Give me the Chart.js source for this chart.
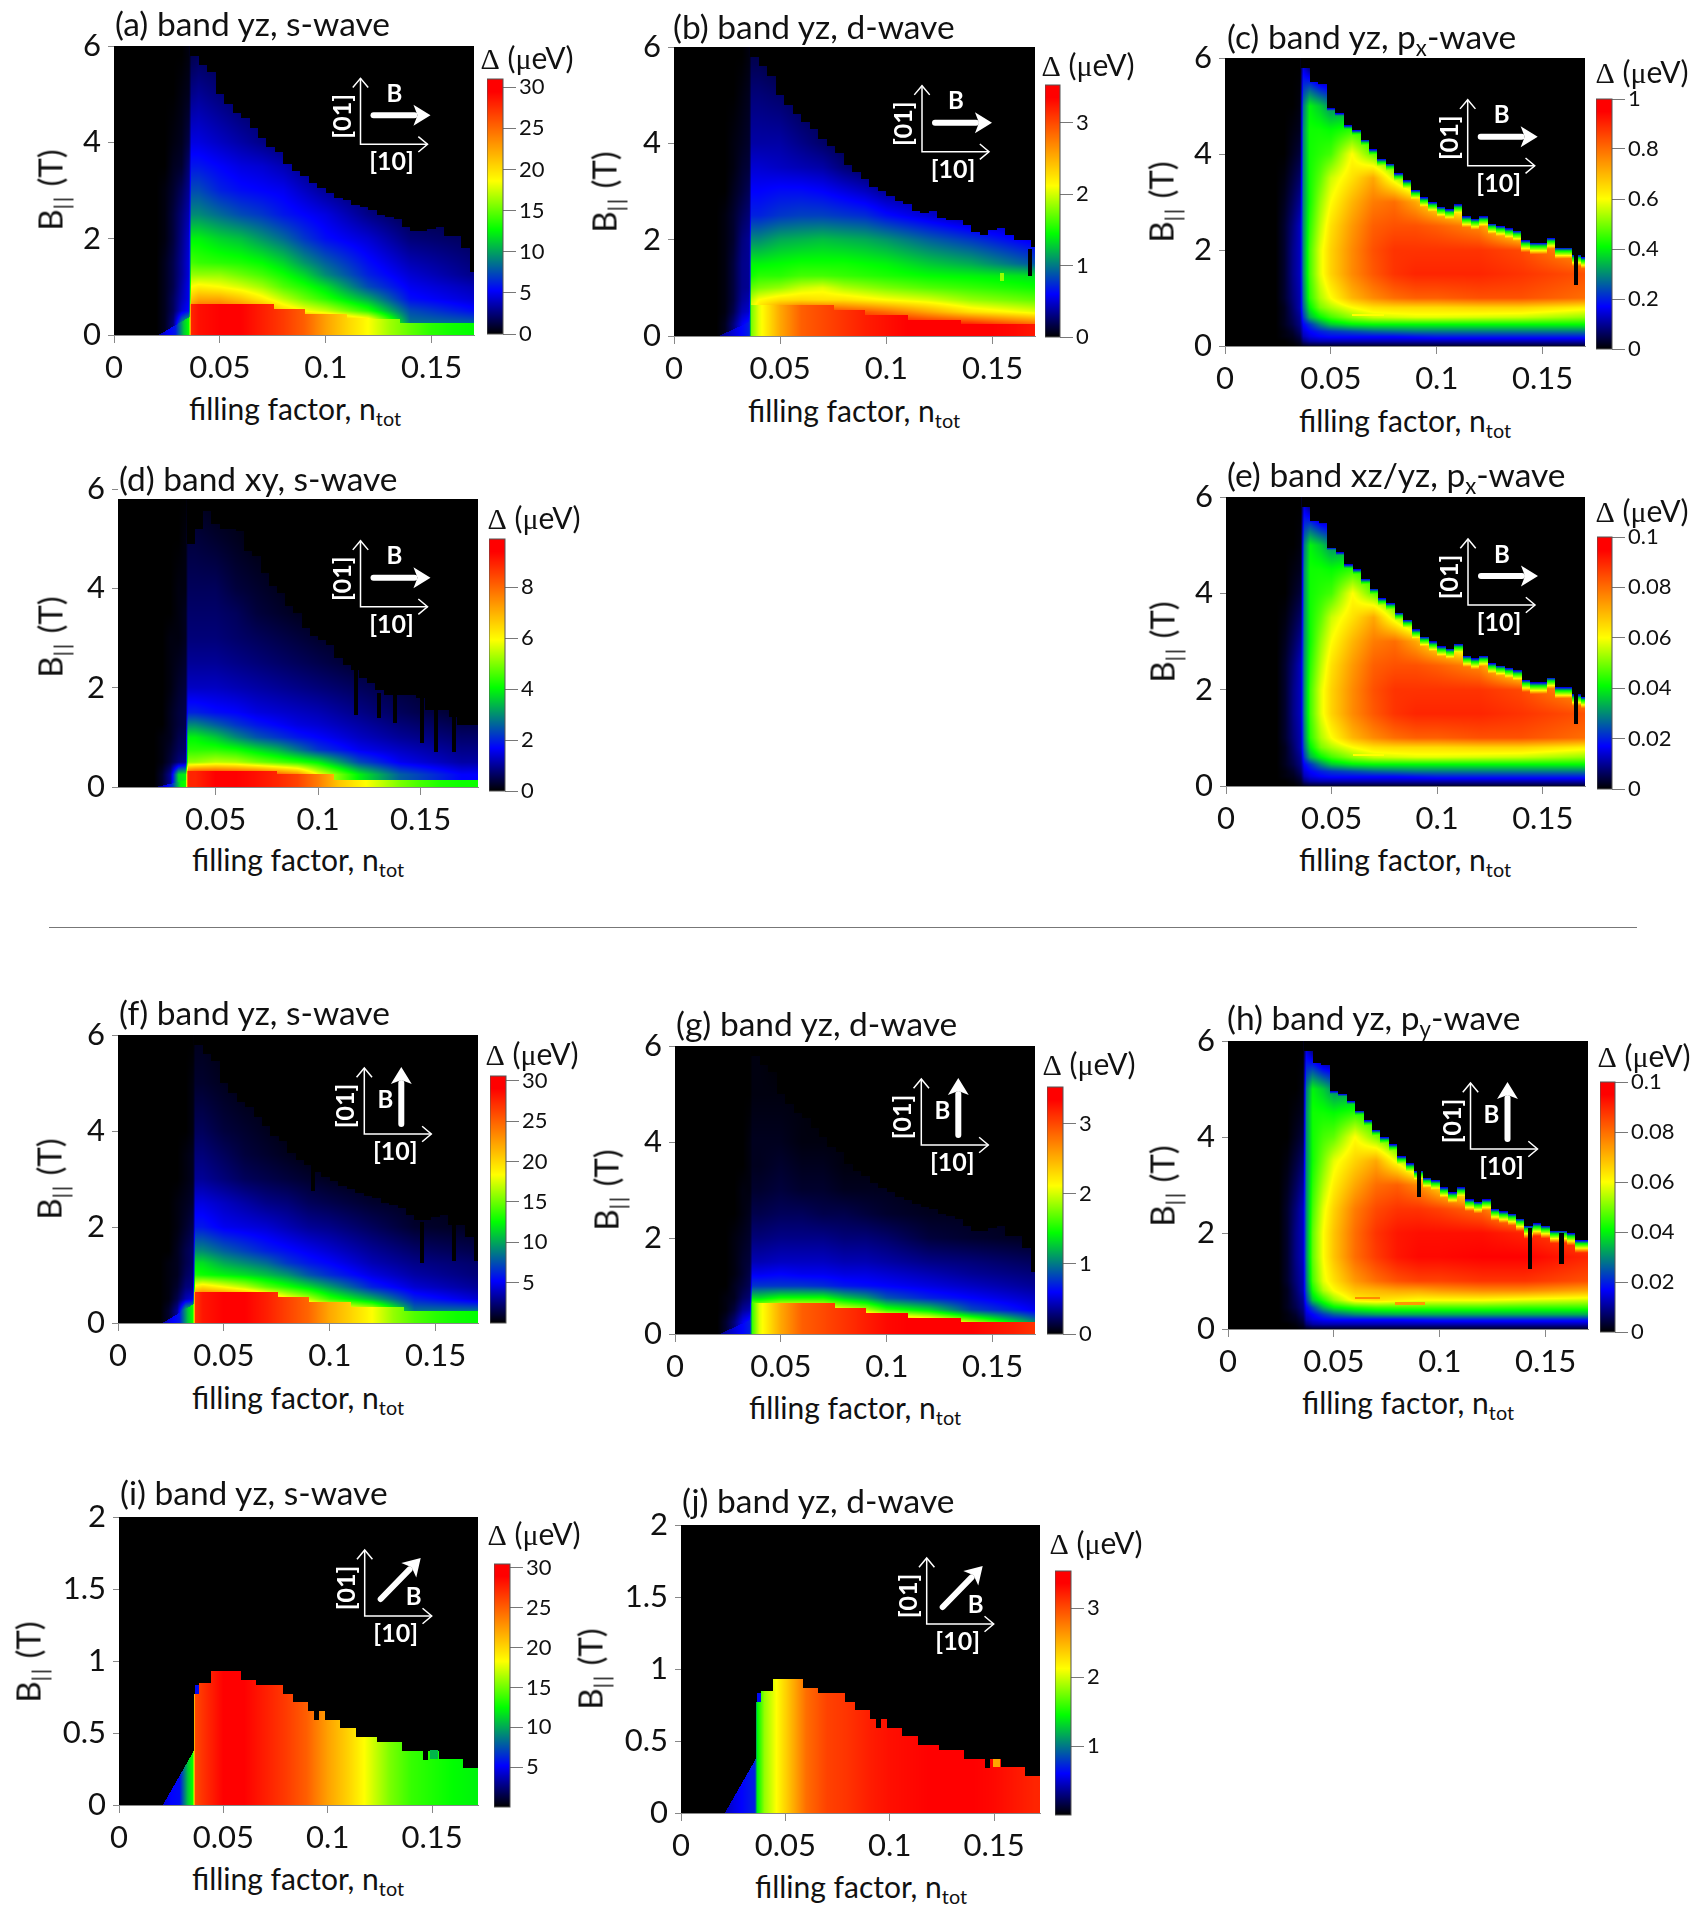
<!DOCTYPE html>
<html>
<head>
<meta charset="utf-8">
<script src="https://cdn.jsdelivr.net/npm/chart.js@4"></script>
<style>
  html, body { margin: 0; background: #fff; }
  #page { position: relative; width: 1695px; height: 1929px; overflow: hidden; font-family: Lato, sans-serif; color: #111; }
  canvas { position: absolute; }
  .t { position: absolute; white-space: nowrap; line-height: 1; }
  .t sub { font-size: 66%; line-height: 0; vertical-align: -0.3em; }
  .title { font-size: 33.5px; transform: translateY(-50%); }
  .xt { font-size: 30px; transform: translate(-50%, -50%); }
  .yt { font-size: 33px; transform: translate(-50%, -50%) rotate(-90deg); }
  .yt sub { letter-spacing: 0.08em; }
  .dl { font-size: 30px; margin-top: -4px; transform: translate(-50%, -50%); }
  .dl i { font-family: "Liberation Serif", serif; font-style: normal; }
  #rule { position: absolute; left: 49px; top: 927px; width: 1588px; height: 1px; background: #777; }
</style>
</head>
<body>
<div id="page"><div id="rule"></div></div>
<script>
// all cell values are percent of the panel's colourbar top
const xTicks = [0, 0.05, 0.1, 0.15];
const xTicksD = [0.05, 0.1, 0.15];
const yTicks6 = [0, 2, 4, 6];
const yTicks2 = [0, 0.5, 1, 1.5, 2];

const barTicksS = [0, 5, 10, 15, 20, 25, 30];
const barTicksS2 = [5, 10, 15, 20, 25, 30];
const barTicksD = [0, 1, 2, 3];
const barTicksD2 = [1, 2, 3];
const barTicksX1 = [0, 0.2, 0.4, 0.6, 0.8, 1];
const barTicksXY = [0, 2, 4, 6, 8];
const barTicksX01 = [0, 0.02, 0.04, 0.06, 0.08, 0.1];

// lower (sharp stair) phase, value depends on filling only
const lowN = [0.021, 0.025, 0.029, 0.033, 0.0355, 0.0365, 0.04, 0.05, 0.06, 0.07, 0.08, 0.09, 0.1, 0.11, 0.12, 0.13, 0.14, 0.15, 0.16, 0.17];
const lowA = [10, 16, 19, 36, 42, 90, 93, 95, 95, 91, 87, 82, 73, 66, 60, 53, 48, 44, 42, 41];
const lowB = [8, 12, 15, 18, 20, 50, 58, 72, 82, 85, 88, 91, 93, 95, 95, 95, 95, 95, 94, 92];
const lowD = [6, 14, 22, 40, 42, 90, 90, 95, 95, 93, 90, 86, 78, 68, 62, 56, 50, 46, 43, 42];
const lowF = [10, 16, 19, 36, 42, 88, 92, 95, 95, 91, 86, 81, 72, 66, 60, 52, 47, 44, 42, 41];
const lowG = [8, 12, 15, 18, 20, 45, 58, 72, 82, 85, 88, 91, 94, 95, 95, 95, 95, 93, 91, 88];
const lowI = [14, 17, 18, 36, 42, 85, 88, 95, 95, 91, 87, 82, 73, 66, 58, 50, 45, 43, 41, 40];
const lowJ = [12, 15, 17, 19, 20, 40, 52, 66, 80, 86, 88, 91, 93, 94, 95, 95, 95, 94, 92, 90];

const stairN = [0.036, 0.0755, 0.09, 0.11, 0.135, 0.172];
const stairB = [0.65, 0.55, 0.44, 0.34, 0.25];
const stairDN = [0.036, 0.08, 0.108, 0.18];
const stairDB = [0.32, 0.27, 0.15];
const stairIN = [0.036, 0.0385, 0.044, 0.0585, 0.0655, 0.0787, 0.0833, 0.0906, 0.0933, 0.096, 0.0988, 0.106, 0.1134, 0.1235, 0.1358, 0.1455, 0.148, 0.1533, 0.165, 0.173];
const stairIB = [0.77, 0.85, 0.93, 0.866, 0.835, 0.773, 0.715, 0.65, 0.59, 0.65, 0.593, 0.535, 0.47, 0.4375, 0.377, 0.315, 0.377, 0.32, 0.257];

// upper field limit per filling column
const edgeN = [0.036, 0.04, 0.044, 0.048, 0.052, 0.056, 0.06, 0.064, 0.068, 0.072, 0.076, 0.08, 0.084, 0.088, 0.092, 0.096, 0.1, 0.104, 0.108, 0.112, 0.116, 0.12, 0.124, 0.128, 0.132, 0.136, 0.14, 0.144, 0.148, 0.152, 0.156, 0.16, 0.164, 0.168];
const edgeA = [5.8, 5.6, 5.45, 5.0, 4.8, 4.6, 4.5, 4.3, 4.1, 3.9, 3.8, 3.55, 3.4, 3.3, 3.15, 3.05, 2.95, 2.85, 2.8, 2.7, 2.65, 2.6, 2.5, 2.45, 2.4, 2.25, 2.15, 2.15, 2.2, 2.25, 2.05, 2.05, 1.8, 1.3];
const edgeB = [5.8, 5.6, 5.4, 5.0, 4.8, 4.6, 4.45, 4.3, 4.1, 3.95, 3.8, 3.55, 3.4, 3.25, 3.1, 3.0, 2.9, 2.8, 2.75, 2.6, 2.55, 2.6, 2.45, 2.4, 2.4, 2.3, 2.15, 2.1, 2.2, 2.25, 2.1, 2.0, 2.0, 1.85];
const edgeC = [5.8, 5.5, 5.45, 4.95, 4.85, 4.6, 4.5, 4.3, 4.1, 3.9, 3.8, 3.6, 3.45, 3.25, 3.1, 3.0, 2.9, 2.85, 2.95, 2.7, 2.65, 2.7, 2.55, 2.5, 2.45, 2.4, 2.2, 2.15, 2.15, 2.25, 2.05, 2.05, 1.9, 1.85];
const edgeD = [4.9, 5.2, 5.55, 5.3, 5.2, 5.2, 5.15, 4.75, 4.65, 4.3, 4.05, 3.9, 3.65, 3.5, 3.2, 3.05, 2.95, 2.85, 2.6, 2.45, 2.35, 2.2, 2.1, 1.95, 1.85, 1.85, 1.85, 1.85, 1.8, 1.55, 1.55, 1.55, 1.4, 1.25];
const edgeH = [5.8, 5.55, 5.5, 4.95, 4.9, 4.75, 4.55, 4.35, 4.15, 4.0, 3.85, 3.6, 3.45, 3.3, 3.15, 3.1, 2.95, 2.85, 2.95, 2.7, 2.65, 2.7, 2.5, 2.45, 2.4, 2.3, 2.15, 2.2, 2.15, 2.05, 2.05, 2.0, 1.85, 1.85];

// how fast the p-wave panels fall off right under the field limit
const rimDepth = [0, 0.07, 0.15, 0.3];
const rimCap = [14, 40, 56, 100];

// upper phase grids for the s and d panels
const colsS = [0.02, 0.024, 0.028, 0.032, 0.0355, 0.0365, 0.04, 0.05, 0.06, 0.07, 0.08, 0.09, 0.1, 0.12, 0.14, 0.17];
const rowsS = [0.25, 0.5, 0.75, 1, 1.25, 1.5, 2, 2.5, 3, 3.5, 4, 5, 5.8];
const gridA = [
  [0, 2, 8, 30, 40, 90, 90, 90, 90, 90, 90, 85, 80, 70, 28, 26],
  [0, 2, 6, 14, 18, 80, 84, 84, 80, 75, 66, 60, 56, 44, 24, 18],
  [0, 2, 6, 12, 16, 68, 72, 72, 68, 62, 55, 49, 44, 33, 18, 14],
  [0, 2, 5, 11, 16, 60, 62, 60, 57, 53, 47, 43, 38, 24, 16, 12],
  [0, 2, 5, 10, 15, 52, 52, 52, 49, 46, 42, 37, 30, 20, 14, 9],
  [0, 2, 5, 10, 15, 46, 45, 44, 43, 41, 37, 31, 26, 18, 12, 8],
  [0, 1, 4, 9, 14, 40, 40, 37, 35, 31, 27, 22, 18, 14, 8, 6],
  [0, 1, 4, 8, 12, 30, 30, 27, 24, 22, 19, 17, 15, 9, 5, 4],
  [0, 1, 3, 6, 10, 24, 24, 20, 18, 17, 16, 13, 10, 6, 3, 2],
  [0, 0, 2, 3, 8, 19, 19, 17, 15, 14, 12, 9, 7, 4, 2, 1],
  [0, 0, 1, 2, 5, 15, 15, 13, 11, 9, 7, 5, 4, 2, 1, 1],
  [0, 0, 0, 1, 2, 9, 10, 8, 6, 5, 4, 3, 2, 1, 1, 1],
  [0, 0, 0, 0, 1, 5, 6, 5, 4, 3, 2, 1, 1, 1, 0, 0]
];
const gridB = [
  [0, 2, 8, 16, 20, 70, 85, 92, 95, 95, 95, 95, 95, 92, 90, 80],
  [0, 1, 5, 12, 14, 60, 66, 80, 88, 88, 85, 83, 80, 72, 64, 58],
  [0, 1, 4, 10, 12, 55, 60, 64, 65, 64, 64, 62, 60, 57, 52, 48],
  [0, 1, 4, 9, 10, 48, 50, 52, 56, 58, 54, 52, 50, 47, 45, 42],
  [0, 1, 4, 9, 10, 42, 44, 44, 46, 46, 45, 44, 43, 41, 40, 38],
  [0, 1, 4, 9, 10, 40, 40, 41, 42, 42, 42, 41, 40, 36, 33, 25],
  [0, 1, 3, 8, 10, 30, 30, 33, 34, 35, 34, 33, 31, 26, 22, 15],
  [0, 1, 3, 6, 8, 20, 20, 22, 23, 23, 22, 21, 18, 14, 10, 8],
  [0, 0, 2, 4, 6, 17, 17, 18, 18, 17, 15, 13, 10, 8, 6, 4],
  [0, 0, 1, 3, 4, 14, 14, 13, 12, 11, 8, 6, 5, 4, 2, 1],
  [0, 0, 1, 2, 3, 11, 11, 11, 9, 7, 5, 4, 3, 2, 1, 1],
  [0, 0, 0, 1, 2, 8, 8, 7, 5, 4, 3, 2, 1, 1, 0, 0],
  [0, 0, 0, 0, 1, 5, 5, 3, 2, 1, 0, 0, 0, 0, 0, 0]
];
const gridD = [
  [0, 3, 10, 38, 40, 88, 92, 92, 90, 88, 82, 76, 60, 40, 26, 17],
  [0, 1, 4, 8, 10, 52, 52, 55, 54, 50, 47, 44, 40, 24, 16, 11],
  [0, 1, 3, 6, 7, 44, 44, 44, 42, 38, 34, 28, 22, 16, 13, 9],
  [0, 1, 2, 5, 6, 40, 40, 36, 30, 25, 22, 19, 17, 13, 10, 7],
  [0, 0, 2, 4, 5, 30, 30, 26, 22, 19, 17, 15, 14, 11, 8, 5],
  [0, 0, 2, 4, 5, 20, 20, 18, 17, 15, 14, 13, 12, 9, 6, 3],
  [0, 0, 1, 3, 4, 13, 13, 13, 12, 11, 10, 9, 8, 6, 4, 2],
  [0, 0, 1, 2, 3, 10, 10, 10, 9, 8, 7, 6, 5, 3, 2, 1],
  [0, 0, 1, 1, 2, 8, 8, 8, 7, 6, 5, 4, 3, 2, 1, 1],
  [0, 0, 0, 1, 2, 7, 7, 7, 6, 4, 3, 2, 2, 1, 0, 0],
  [0, 0, 0, 1, 1, 6, 6, 6, 4, 3, 2, 1, 1, 0, 0, 0],
  [0, 0, 0, 0, 1, 4, 4, 3, 2, 1, 1, 0, 0, 0, 0, 0],
  [0, 0, 0, 0, 0, 2, 2, 1, 1, 0, 0, 0, 0, 0, 0, 0]
];
const gridF = [
  [0, 3, 10, 36, 40, 90, 92, 92, 90, 88, 84, 78, 70, 60, 28, 28],
  [0, 1, 5, 12, 15, 85, 85, 85, 80, 72, 62, 55, 45, 34, 20, 14],
  [0, 1, 3, 8, 9, 62, 65, 60, 55, 48, 43, 38, 32, 20, 14, 10],
  [0, 1, 2, 6, 8, 43, 42, 40, 38, 35, 31, 25, 21, 15, 11, 8],
  [0, 1, 2, 5, 7, 38, 38, 33, 30, 27, 22, 19, 17, 12, 9, 7],
  [0, 0, 2, 5, 7, 30, 30, 26, 23, 20, 18, 16, 14, 10, 7, 5],
  [0, 0, 1, 3, 5, 19, 19, 16, 15, 14, 12, 10, 9, 6, 3, 2],
  [0, 0, 1, 2, 3, 15, 15, 13, 11, 9, 8, 6, 5, 3, 2, 1],
  [0, 0, 0, 1, 2, 10, 10, 8, 6, 5, 4, 3, 2, 1, 1, 0],
  [0, 0, 0, 1, 2, 8, 8, 6, 4, 3, 2, 1, 1, 1, 0, 0],
  [0, 0, 0, 0, 1, 6, 6, 4, 3, 2, 1, 1, 1, 0, 0, 0],
  [0, 0, 0, 0, 1, 3, 3, 2, 1, 1, 0, 0, 0, 0, 0, 0],
  [0, 0, 0, 0, 0, 2, 2, 1, 0, 0, 0, 0, 0, 0, 0, 0]
];
const gridG = [
  [0, 3, 8, 16, 20, 70, 70, 80, 85, 85, 85, 85, 80, 70, 55, 30],
  [0, 1, 4, 10, 12, 60, 62, 68, 68, 65, 60, 55, 45, 38, 24, 16],
  [0, 1, 2, 6, 8, 38, 38, 42, 42, 42, 36, 32, 25, 20, 17, 13],
  [0, 0, 2, 4, 6, 22, 22, 22, 22, 21, 19, 18, 17, 15, 13, 10],
  [0, 0, 1, 3, 5, 16, 16, 17, 16, 16, 15, 15, 14, 12, 10, 8],
  [0, 0, 1, 3, 4, 12, 12, 13, 13, 13, 12, 12, 11, 9, 8, 6],
  [0, 0, 1, 2, 3, 8, 8, 9, 9, 9, 8, 8, 7, 4, 3, 2],
  [0, 0, 0, 1, 2, 5, 5, 6, 6, 5, 5, 4, 3, 2, 2, 1],
  [0, 0, 0, 1, 1, 3, 3, 4, 3, 3, 2, 2, 2, 1, 1, 0],
  [0, 0, 0, 0, 1, 2, 2, 3, 2, 2, 1, 1, 1, 1, 0, 0],
  [0, 0, 0, 0, 1, 2, 2, 2, 1, 1, 1, 1, 0, 0, 0, 0],
  [0, 0, 0, 0, 0, 1, 1, 1, 1, 0, 0, 0, 0, 0, 0, 0],
  [0, 0, 0, 0, 0, 1, 1, 0, 0, 0, 0, 0, 0, 0, 0, 0]
];

// p-wave panels have no stair phase, so they need the low rows too
const colsP = [0.024, 0.028, 0.032, 0.0355, 0.037, 0.04, 0.045, 0.05, 0.06, 0.07, 0.08, 0.09, 0.1, 0.12, 0.14, 0.17];
const rowsP = [0, 0.1, 0.2, 0.3, 0.45, 0.6, 0.8, 1, 1.5, 2, 2.5, 3, 3.5, 4, 4.5, 5, 5.8];
const gridC = [
  [0, 0, 0, 1, 2, 3, 3, 3, 3, 3, 3, 3, 3, 3, 3, 3],
  [0, 0, 1, 3, 8, 11, 12, 12, 12, 12, 12, 12, 12, 12, 12, 12],
  [0, 1, 2, 5, 12, 15, 17, 18, 18, 18, 18, 19, 20, 20, 20, 20],
  [0, 1, 3, 7, 14, 17, 20, 22, 24, 26, 27, 28, 28, 28, 28, 28],
  [0, 2, 5, 9, 17, 22, 30, 36, 40, 41, 41, 41, 41, 41, 41, 41],
  [0, 2, 6, 10, 22, 34, 41, 46, 52, 56, 57, 58, 58, 57, 56, 52],
  [0, 2, 7, 12, 26, 40, 50, 54, 60, 64, 65, 65, 65, 66, 66, 62],
  [0, 3, 8, 12, 28, 44, 54, 60, 70, 76, 80, 82, 82, 84, 84, 80],
  [0, 3, 9, 13, 30, 46, 58, 66, 76, 83, 88, 90, 90, 90, 88, 84],
  [0, 3, 9, 13, 30, 46, 58, 66, 76, 84, 88, 88, 88, 88, 85, 72],
  [0, 3, 8, 13, 30, 44, 55, 64, 74, 82, 84, 84, 82, 76, 50, 40],
  [0, 2, 6, 10, 30, 42, 52, 60, 70, 78, 80, 72, 60, 40, 40, 40],
  [0, 1, 4, 7, 30, 42, 48, 56, 64, 72, 56, 40, 40, 40, 40, 40],
  [0, 0, 2, 4, 30, 42, 44, 46, 60, 48, 40, 40, 40, 40, 40, 40],
  [0, 0, 1, 2, 30, 42, 42, 41, 44, 40, 40, 40, 40, 40, 40, 40],
  [0, 0, 0, 1, 28, 40, 36, 30, 30, 30, 30, 30, 30, 30, 30, 30],
  [0, 0, 0, 0, 15, 8, 0, 0, 0, 0, 0, 0, 0, 0, 0, 0]
];
const gridE = gridC; // (c) and (e) look the same against their own colourbars
const gridH = [
  [0, 0, 0, 1, 2, 3, 3, 3, 3, 3, 3, 3, 3, 3, 3, 3],
  [0, 0, 1, 3, 8, 11, 12, 12, 12, 12, 12, 12, 12, 12, 12, 12],
  [0, 1, 2, 5, 12, 15, 17, 18, 18, 18, 18, 19, 20, 20, 20, 20],
  [0, 1, 3, 7, 14, 17, 22, 26, 30, 32, 33, 33, 33, 33, 33, 33],
  [0, 2, 5, 9, 17, 24, 34, 40, 44, 46, 46, 46, 46, 46, 45, 45],
  [0, 2, 6, 10, 22, 36, 44, 52, 62, 64, 62, 60, 60, 60, 58, 56],
  [0, 2, 7, 12, 26, 42, 54, 60, 68, 70, 72, 72, 74, 76, 76, 72],
  [0, 3, 8, 12, 28, 46, 58, 64, 74, 80, 84, 86, 86, 88, 88, 84],
  [0, 3, 9, 13, 30, 48, 60, 68, 80, 87, 92, 94, 94, 95, 95, 90],
  [0, 3, 9, 13, 30, 48, 60, 68, 80, 88, 92, 93, 93, 93, 90, 82],
  [0, 3, 8, 13, 30, 46, 58, 66, 78, 85, 88, 88, 86, 80, 60, 40],
  [0, 2, 6, 10, 30, 44, 54, 62, 72, 80, 82, 76, 64, 40, 40, 40],
  [0, 1, 4, 7, 30, 42, 50, 58, 66, 72, 58, 40, 40, 40, 40, 40],
  [0, 0, 2, 4, 30, 42, 46, 48, 60, 50, 40, 40, 40, 40, 40, 40],
  [0, 0, 1, 2, 30, 42, 42, 41, 44, 40, 40, 40, 40, 40, 40, 40],
  [0, 0, 0, 1, 28, 40, 36, 30, 30, 30, 30, 30, 30, 30, 30, 30],
  [0, 0, 0, 0, 15, 8, 0, 0, 0, 0, 0, 0, 0, 0, 0, 0]
];

// small spots and black slits: [n0, n1, B0, B1, percent]
const spotsA = [];
const spotsB = [[0.1667, 0.1685, 1.24, 1.8, 0], [0.1535, 0.1555, 1.15, 1.3, 52]];
const spotsC = [[0.1648, 0.1665, 1.28, 1.9, 0], [0.06, 0.075, 0.62, 0.67, 60]];
const spotsD = [[0.1175, 0.1195, 1.45, 2.4, 0], [0.1285, 0.1305, 1.38, 1.9, 0], [0.1365, 0.1385, 1.28, 1.9, 0], [0.1495, 0.1515, 0.88, 1.85, 0], [0.1565, 0.1585, 0.71, 1.55, 0], [0.1655, 0.1675, 0.71, 1.5, 0]];
const spotsF = [[0.091, 0.093, 2.75, 3.3, 0], [0.1425, 0.1445, 1.25, 2.1, 0], [0.1575, 0.1595, 1.3, 2.05, 0]];
const spotsH = [[0.0892, 0.0912, 2.75, 3.3, 0], [0.1415, 0.1435, 1.25, 2.1, 0], [0.1565, 0.1585, 1.35, 2.0, 0], [0.06, 0.072, 0.62, 0.66, 76], [0.079, 0.093, 0.51, 0.56, 74]];
const spotsI = [[0.0365, 0.0385, 0.77, 0.83, 18], [0.149, 0.153, 0.32, 0.38, 34]];
const spotsJ = [[0.0365, 0.0385, 0.77, 0.83, 18], [0.1495, 0.153, 0.32, 0.375, 72]];

const cmapT = [0, 17, 41, 60, 95, 100];
const cmapR = [0, 0, 0, 255, 255, 255];
const cmapG = [0, 0, 255, 255, 0, 0];
const cmapB = [0, 255, 0, 0, 0, 0];

const sharpN = 0.036;
const onsetN = 0.021;

const panels = [
  { tag: "a", title: "(a) band yz, s-wave", box: [114, 46, 474, 335], titleAt: [115, 24], xAt: [295, 408], yAt: [50, 190], dAt: [527, 62],
    bar: [487, 79, 503, 334], barMax: 31, barTicks: barTicksS, inset: [360.5, 144.3], dir: "x", xr: [0, 0.17], yMax: 6, yTicks: yTicks6, xTicks: xTicks,
    low: lowA, tri: 0.38, stairN: stairN, stairB: stairB, edge: edgeA, cols: colsS, rows: rowsS, grid: gridA, spots: spotsA },
  { tag: "b", title: "(b) band yz, d-wave", box: [674, 47, 1035, 336], titleAt: [673, 27], xAt: [854, 410], yAt: [604, 192], dAt: [1088, 69],
    bar: [1045, 85, 1060, 337], barMax: 3.53, barTicks: barTicksD, inset: [922, 151.7], dir: "x", xr: [0, 0.17], yMax: 6, yTicks: yTicks6, xTicks: xTicks,
    low: lowB, tri: 0.3, stairN: stairN, stairB: stairB, edge: edgeB, cols: colsS, rows: rowsS, grid: gridB, spots: spotsB },
  { tag: "c", title: "(c) band yz, p<sub>x</sub>-wave", box: [1225, 58, 1585, 346], titleAt: [1227, 37], xAt: [1405, 420], yAt: [1161, 202], dAt: [1642, 76],
    bar: [1596, 99, 1612, 349], barMax: 1, barTicks: barTicksX1, inset: [1467.7, 165.7], dir: "x", xr: [0, 0.17], yMax: 6, yTicks: yTicks6, xTicks: xTicks,
    edge: edgeC, cols: colsP, rows: rowsP, grid: gridC, spots: spotsC, rim: true },
  { tag: "d", title: "(d) band xy, s-wave", box: [118, 489, 478, 787], titleAt: [119, 479], xAt: [298, 859], yAt: [50, 637], dAt: [534, 522],
    bar: [489, 539, 505, 791], barMax: 9.9, barTicks: barTicksXY, inset: [360.5, 606.7], dir: "x", xr: [0.0024, 0.178], yMax: 6, yTicks: yTicks6, xTicks: xTicksD, bTop: 5.8,
    low: lowD, tri: 0.14, stairN: stairDN, stairB: stairDB, edge: edgeD, cols: colsS, rows: rowsS, grid: gridD, spots: spotsD },
  { tag: "e", title: "(e) band xz/yz, p<sub>x</sub>-wave", box: [1226, 497, 1585, 786], titleAt: [1227, 475], xAt: [1405, 859], yAt: [1162, 642], dAt: [1642, 515],
    bar: [1597, 537, 1612, 789], barMax: 0.1, barTicks: barTicksX01, inset: [1468, 605], dir: "x", xr: [0, 0.17], yMax: 6, yTicks: yTicks6, xTicks: xTicks,
    edge: edgeC, cols: colsP, rows: rowsP, grid: gridE, spots: spotsC, rim: true },
  { tag: "f", title: "(f) band yz, s-wave", box: [118, 1035, 478, 1323], titleAt: [119, 1013], xAt: [298, 1397], yAt: [49, 1179], dAt: [532, 1058],
    bar: [490, 1076, 506, 1323], barMax: 30.6, barTicks: barTicksS2, inset: [364.3, 1134], dir: "y", xr: [0, 0.17], yMax: 6, yTicks: yTicks6, xTicks: xTicks,
    low: lowF, tri: 0.4, stairN: stairN, stairB: stairB, edge: edgeA, cols: colsS, rows: rowsS, grid: gridF, spots: spotsF },
  { tag: "g", title: "(g) band yz, d-wave", box: [675, 1046, 1035, 1334], titleAt: [676, 1024], xAt: [855, 1407], yAt: [606, 1190], dAt: [1089, 1068],
    bar: [1047, 1087, 1063, 1334], barMax: 3.52, barTicks: barTicksD, inset: [921.3, 1145], dir: "y", xr: [0, 0.17], yMax: 6, yTicks: yTicks6, xTicks: xTicks,
    low: lowG, tri: 0.3, stairN: stairN, stairB: stairB, edge: edgeA, cols: colsS, rows: rowsS, grid: gridG, spots: spotsA },
  { tag: "h", title: "(h) band yz, p<sub>y</sub>-wave", box: [1228, 1041, 1588, 1329], titleAt: [1227, 1018], xAt: [1408, 1402], yAt: [1162, 1186], dAt: [1644, 1060],
    bar: [1600, 1082, 1615, 1332], barMax: 0.1, barTicks: barTicksX01, inset: [1470.5, 1149], dir: "y", xr: [0, 0.17], yMax: 6, yTicks: yTicks6, xTicks: xTicks,
    edge: edgeH, cols: colsP, rows: rowsP, grid: gridH, spots: spotsH, rim: true },
  { tag: "i", title: "(i) band yz, s-wave", box: [119, 1517, 478, 1805], titleAt: [120, 1493], xAt: [298, 1878], yAt: [28, 1662], dAt: [534, 1538],
    bar: [494, 1564, 510, 1807], barMax: 30.5, barTicks: barTicksS2, inset: [364.7, 1616], dir: "xy", xr: [0, 0.172], yMax: 2, yTicks: yTicks2, xTicks: xTicks,
    low: lowI, tri: 0.38, stairN: stairIN, stairB: stairIB, spots: spotsI },
  { tag: "j", title: "(j) band yz, d-wave", box: [681, 1525, 1040, 1813], titleAt: [682, 1501], xAt: [861, 1886], yAt: [590, 1669], dAt: [1096, 1547],
    bar: [1055, 1571, 1071, 1815], barMax: 3.54, barTicks: barTicksD2, inset: [926.7, 1624], dir: "xy", xr: [0, 0.172], yMax: 2, yTicks: yTicks2, xTicks: xTicks,
    low: lowJ, tri: 0.38, stairN: stairIN, stairB: stairIB, spots: spotsJ }
];

function stepAt(xs, x) {
  let i = 0;
  while (i < xs.length - 1 && x >= xs[i + 1]) i++;
  return i;
}

function lerp1(xs, ys, x) {
  if (x <= xs[0]) return ys[0];
  const i = stepAt(xs, x);
  if (i >= xs.length - 1) return ys[ys.length - 1];
  return ys[i] + (ys[i + 1] - ys[i]) * (x - xs[i]) / (xs[i + 1] - xs[i]);
}

function gridAt(p, n, b) {
  const i = Math.min(stepAt(p.cols, n), p.cols.length - 2);
  const j = Math.min(stepAt(p.rows, b), p.rows.length - 2);
  const tx = Math.max(0, Math.min(1, (n - p.cols[i]) / (p.cols[i + 1] - p.cols[i])));
  const ty = Math.max(0, Math.min(1, (b - p.rows[j]) / (p.rows[j + 1] - p.rows[j])));
  const a = p.grid[j][i] * (1 - tx) + p.grid[j][i + 1] * tx;
  const c = p.grid[j + 1][i] * (1 - tx) + p.grid[j + 1][i + 1] * tx;
  return a * (1 - ty) + c * ty;
}

function pctAt(p, n, b) {
  if (p.bTop && b > p.bTop) return -1;
  for (const s of p.spots) {
    if (n >= s[0] && n <= s[1] && b >= s[2] && b <= s[3]) return s[4];
  }
  if (p.low) {
    let top = -1;
    if (n >= sharpN) top = p.stairB[Math.min(stepAt(p.stairN, n), p.stairB.length - 1)];
    else if (n >= onsetN) top = lerp1([onsetN, sharpN], [0, p.tri], n);
    if (b <= top) return lerp1(lowN, p.low, n);
  }
  if (!p.grid) return 0;
  if (n >= sharpN) {
    const edge = p.edge[stepAt(edgeN, n)];
    if (b > edge) return 0;
    const v = gridAt(p, n, b);
    return p.rim ? Math.min(v, lerp1(rimDepth, rimCap, edge - b)) : v;
  }
  return gridAt(p, n, b);
}

function heatPlugin(p) {
  return {
    id: "heat" + p.tag,
    beforeDatasetsDraw(chart) {
      const { ctx, chartArea: a, scales } = chart;
      const x0 = Math.round(a.left), y0 = Math.round(a.top);
      const w = Math.round(a.right) - x0, h = Math.round(a.bottom) - y0;
      const img = ctx.createImageData(w, h);
      for (let yy = 0; yy < h; yy++) {
        const b = scales.y.getValueForPixel(y0 + yy + 0.5);
        for (let xx = 0; xx < w; xx++) {
          const n = scales.x.getValueForPixel(x0 + xx + 0.5);
          const v = pctAt(p, n, b);
          const k = (yy * w + xx) * 4;
          if (v < 0) continue;
          img.data[k] = lerp1(cmapT, cmapR, v);
          img.data[k + 1] = lerp1(cmapT, cmapG, v);
          img.data[k + 2] = lerp1(cmapT, cmapB, v);
          img.data[k + 3] = 255;
        }
      }
      ctx.putImageData(img, x0, y0);
    },
    afterDraw(chart) {
      const { ctx, chartArea: a } = chart;
      const b = p.box;
      drawInset(ctx, a.left + p.inset[0] - b[0], a.top + p.inset[1] - b[1], p.dir);
    }
  };
}

function chevron(ctx, x, y, ang, size) {
  ctx.beginPath();
  ctx.moveTo(x - size * Math.cos(ang - 0.7), y - size * Math.sin(ang - 0.7));
  ctx.lineTo(x, y);
  ctx.lineTo(x - size * Math.cos(ang + 0.7), y - size * Math.sin(ang + 0.7));
  ctx.stroke();
}

function drawInset(ctx, ox, oy, dir) {
  ctx.save();
  ctx.strokeStyle = "#fff";
  ctx.fillStyle = "#fff";
  ctx.lineWidth = 1.5;
  ctx.beginPath();
  ctx.moveTo(ox, oy - 66);
  ctx.lineTo(ox, oy);
  ctx.lineTo(ox + 67, oy);
  ctx.stroke();
  chevron(ctx, ox, oy - 66, -Math.PI / 2, 12);
  chevron(ctx, ox + 67, oy, 0, 12);

  ctx.textAlign = "center";
  ctx.textBaseline = "middle";
  ctx.font = "bold 25px Lato";
  ctx.fillText("[10]", ox + 31, oy + 18);
  ctx.save();
  ctx.translate(ox - 18, oy - 28);
  ctx.rotate(-Math.PI / 2);
  ctx.fillText("[01]", 0, 0);
  ctx.restore();

  // thick field arrow
  let from, to, lab;
  if (dir === "x") { from = [13, -29]; to = [70, -29]; lab = [34, -50]; }
  if (dir === "y") { from = [37, -10]; to = [37, -67]; lab = [21, -34]; }
  if (dir === "xy") { from = [16, -17]; to = [56, -58]; lab = [49, -19]; }
  const ang = Math.atan2(to[1] - from[1], to[0] - from[0]);
  const tipBack = 16;
  ctx.lineWidth = 6;
  ctx.lineCap = "round";
  ctx.beginPath();
  ctx.moveTo(ox + from[0], oy + from[1]);
  ctx.lineTo(ox + to[0] - tipBack * Math.cos(ang), oy + to[1] - tipBack * Math.sin(ang));
  ctx.stroke();
  ctx.beginPath();
  ctx.moveTo(ox + to[0], oy + to[1]);
  ctx.lineTo(ox + to[0] - 20 * Math.cos(ang - 0.55), oy + to[1] - 20 * Math.sin(ang - 0.55));
  ctx.lineTo(ox + to[0] - 13 * Math.cos(ang), oy + to[1] - 13 * Math.sin(ang));
  ctx.lineTo(ox + to[0] - 20 * Math.cos(ang + 0.55), oy + to[1] - 20 * Math.sin(ang + 0.55));
  ctx.closePath();
  ctx.fill();
  ctx.font = "bold 24px Lato";
  ctx.fillText("B", ox + lab[0], oy + lab[1]);
  ctx.restore();
}

function barPlugin(p) {
  return {
    id: "bar" + p.tag,
    beforeDatasetsDraw(chart) {
      const { ctx, chartArea: a, scales } = chart;
      for (let yy = Math.round(a.top); yy < Math.round(a.bottom); yy++) {
        const t = scales.y.getValueForPixel(yy + 0.5) / p.barMax * 100;
        ctx.fillStyle = "rgb(" + lerp1(cmapT, cmapR, t) + "," + lerp1(cmapT, cmapG, t) + "," + lerp1(cmapT, cmapB, t) + ")";
        ctx.fillRect(a.left, yy, a.right - a.left, 1);
      }
      ctx.strokeStyle = "#555";
      ctx.lineWidth = 1;
      ctx.strokeRect(a.left, a.top, a.right - a.left, a.bottom - a.top);
    }
  };
}

const page = document.getElementById("page");

function addCanvas(left, top, w, h) {
  const c = document.createElement("canvas");
  c.width = w;
  c.height = h;
  c.style.left = left + "px";
  c.style.top = top + "px";
  c.style.width = w + "px";
  c.style.height = h + "px";
  page.appendChild(c);
  return c;
}

function addText(cls, html, at) {
  const d = document.createElement("div");
  d.className = "t " + cls;
  d.innerHTML = html;
  d.style.left = at[0] + "px";
  d.style.top = at[1] + "px";
  page.appendChild(d);
}

const yBoxW = 70, xBoxH = 50, padTop = 32, padRight = 20, barPad = 24;

panels.forEach(function (p) {
  const [L, T, R, B] = p.box;
  const main = addCanvas(L - yBoxW, T - padTop, R - L + yBoxW + padRight, B - T + padTop + xBoxH);
  new Chart(main, {
    type: "scatter",
    data: { datasets: [{ data: [], pointRadius: 0 }] },
    plugins: [heatPlugin(p)],
    options: {
      responsive: false,
      animation: false,
      layout: { padding: { top: padTop, right: padRight, left: 0, bottom: 0 } },
      plugins: { legend: { display: false }, title: { display: false }, tooltip: { enabled: false } },
      scales: {
        x: {
          type: "linear",
          min: p.xr[0],
          max: p.xr[1],
          afterBuildTicks: function (s) { s.ticks = p.xTicks.map(function (v) { return { value: v }; }); },
          afterFit: function (s) { s.height = xBoxH; },
          grid: { drawOnChartArea: false, color: "#888", tickLength: 8 },
          border: { color: "#888" },
          ticks: { color: "#111", font: { family: "Lato", size: 31 }, padding: 6, maxRotation: 0, autoSkip: false, callback: function (v) { return String(v); } }
        },
        y: {
          type: "linear",
          min: 0,
          max: p.yMax,
          afterBuildTicks: function (s) { s.ticks = p.yTicks.map(function (v) { return { value: v }; }); },
          afterFit: function (s) { s.width = yBoxW; },
          grid: { drawOnChartArea: false, color: "#888", tickLength: 6 },
          border: { color: "#888" },
          ticks: { color: "#111", font: { family: "Lato", size: 31 }, padding: 7, autoSkip: false, callback: function (v) { return String(v); } }
        }
      }
    }
  });

  const [bl, bt, br, bb] = p.bar;
  const barCanvas = addCanvas(bl, bt - barPad, br - bl + 60, bb - bt + barPad * 2);
  new Chart(barCanvas, {
    type: "scatter",
    data: { datasets: [{ data: [], pointRadius: 0 }] },
    plugins: [barPlugin(p)],
    options: {
      responsive: false,
      animation: false,
      layout: { padding: { top: barPad, bottom: barPad, left: 0, right: 0 } },
      plugins: { legend: { display: false }, title: { display: false }, tooltip: { enabled: false } },
      scales: {
        x: { type: "linear", display: false },
        y: {
          type: "linear",
          position: "right",
          min: 0,
          max: p.barMax,
          afterBuildTicks: function (s) { s.ticks = p.barTicks.map(function (v) { return { value: v }; }); },
          afterFit: function (s) { s.width = 60; },
          grid: { drawOnChartArea: false, color: "#777", tickLength: 13 },
          border: { display: false },
          ticks: { color: "#111", font: { family: "Lato", size: 22 }, padding: 3, autoSkip: false, callback: function (v) { return String(v); } }
        }
      }
    }
  });

  addText("title", p.title, p.titleAt);
  addText("xt", "filling factor, n<sub>tot</sub>", p.xAt);
  addText("yt", "B<sub>||</sub> (T)", p.yAt);
  addText("dl", "<i>Δ</i> (<i>μ</i>eV)", p.dAt);
});
</script>
</body>
</html>
